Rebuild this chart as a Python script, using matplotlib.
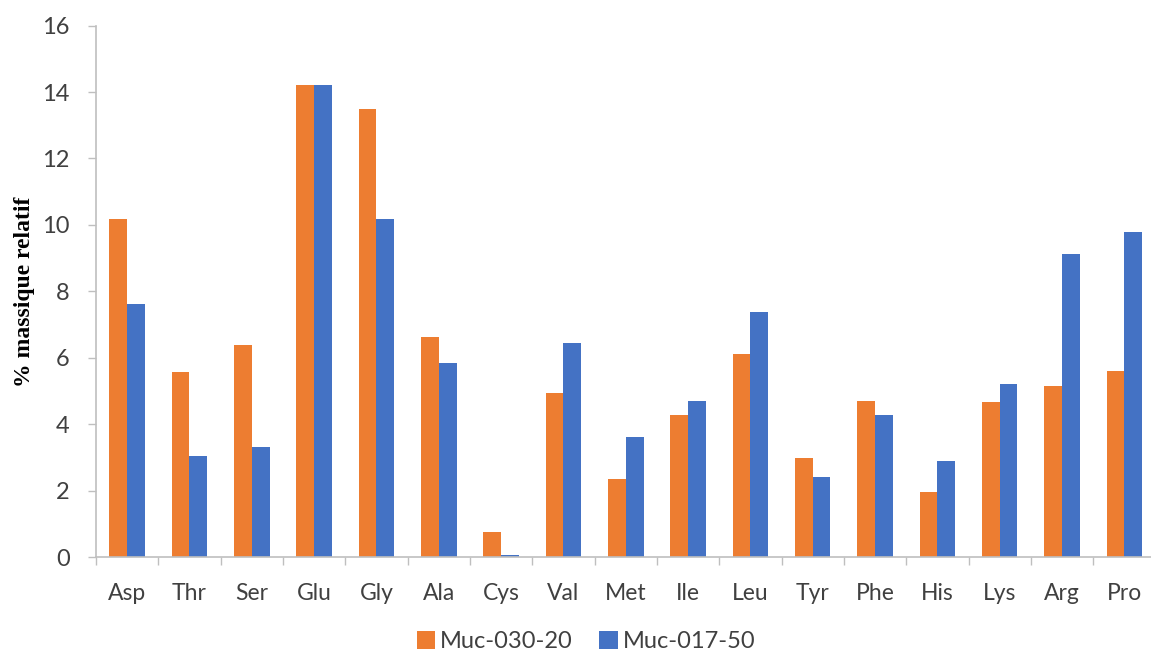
import numpy as np
import matplotlib
matplotlib.use("Agg")
import matplotlib.pyplot as plt
from matplotlib.ticker import FixedLocator

# --- data ---
categories = ["Asp", "Thr", "Ser", "Glu", "Gly", "Ala", "Cys", "Val", "Met",
              "Ile", "Leu", "Tyr", "Phe", "His", "Lys", "Arg", "Pro"]
muc_030_20 = [10.18, 5.56, 6.39, 14.2, 13.5, 6.62, 0.76, 4.94, 2.34,
              4.29, 6.10, 2.97, 4.71, 1.96, 4.67, 5.15, 5.61]
muc_017_50 = [7.61, 3.05, 3.31, 14.2, 10.18, 5.83, 0.06, 6.43, 3.62,
              4.71, 7.39, 2.42, 4.29, 2.90, 5.20, 9.12, 9.78]
series_names = ["Muc-030-20", "Muc-017-50"]

ORANGE = "#ED7D31"
BLUE = "#4472C4"
GRID_GREY = "#BFBFBF"
TEXT_GREY = "#404040"

fig = plt.figure(figsize=(11.51, 6.53), dpi=100)
ax = fig.add_axes([0.0834, 0.147, 0.9205, 0.8137])

x = np.arange(len(categories))
w = 0.285
ax.bar(x - w / 2, muc_030_20, width=w, color=ORANGE, label=series_names[0])
ax.bar(x + w / 2, muc_017_50, width=w, color=BLUE, label=series_names[1])

ax.set_xlim(-0.5, len(categories) - 0.5)
ax.set_ylim(0, 16)
ax.set_yticks(np.arange(0, 17, 2))

# labels at category centres, tick marks at boundaries
ax.set_xticks(x)
ax.set_xticklabels(categories)
ax.xaxis.set_minor_locator(FixedLocator(np.arange(-0.5, len(categories), 1.0)))
ax.tick_params(axis="x", which="major", length=0, pad=19,
               labelsize=16.5, labelcolor=TEXT_GREY)
ax.tick_params(axis="x", which="minor", length=6, color=GRID_GREY, width=1)
ax.tick_params(axis="y", length=6, color=GRID_GREY, width=1, pad=13,
               labelsize=17, labelcolor=TEXT_GREY)
for lbl in ax.get_xticklabels() + ax.get_yticklabels():
    lbl.set_family(["Lato", "DejaVu Sans"])

for side in ("top", "right"):
    ax.spines[side].set_visible(False)
for side in ("left", "bottom"):
    ax.spines[side].set_color(GRID_GREY)
    ax.spines[side].set_linewidth(1.2)

ax.set_ylabel("% massique relatif", fontsize=17, fontweight="bold",
              family=["Liberation Serif", "DejaVu Serif"], color="black",
              labelpad=5)

leg = fig.legend(loc="center", bbox_to_anchor=(0.509, 0.018), ncol=2,
                 frameon=False, handlelength=0.8, handleheight=0.8,
                 handletextpad=0.2, columnspacing=1.1,
                 prop={"family": ["Lato", "DejaVu Sans"], "size": 17})
for t in leg.get_texts():
    t.set_color(TEXT_GREY)

fig.savefig("out.png", dpi=100)
